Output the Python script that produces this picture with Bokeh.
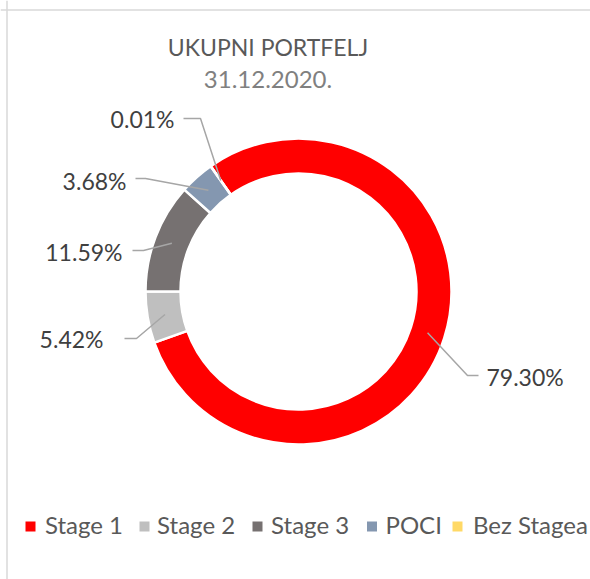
import numpy as np
from bokeh.plotting import figure
from bokeh.models import Range1d, ColumnDataSource, Span
from bokeh.core.properties import value
from bokeh.embed import file_html
from bokeh.resources import INLINE

# ---- data ----
categories = ["Stage 1", "Stage 2", "Stage 3", "POCI", "Bez Stagea"]
shares = [79.30, 5.42, 11.59, 3.68, 0.01]
share_labels = ["79.30%", "5.42%", "11.59%", "3.68%", "0.01%"]
colors = ["#FF0000", "#BFBFBF", "#767171", "#8497B0", "#FFD966"]
title_text = "UKUPNI PORTFELJ"
date_text = "31.12.2020."

# ---- layout ----
W, H = 590, 579
TXT_DY = 9  # compensation for text baseline placement
def Y(py):
    return H - py  # picture pixel y -> data y
def YT(py):
    return H - py + TXT_DY

FONT = value("Lato")
cx, cy = 298, Y(291)
r_out, r_in = 153, 118
first_angle = 325.0  # degrees clockwise from 12 o'clock

# label layout: (text x, text baseline y, align, elbow x, end x, elbow y)
label_layout = [
    (486, 385, "left", 467, 478, 375),
    (103, 347, "right", 136, 124, 338),
    (122, 260, "right", 143, 132, 250),
    (126, 189, "right", 145, 135, 178),
    (174, 127, "right", 200, 183, 118),
]
legend_sq_x = [30, 144, 257, 371.5, 457]
legend_tx_x = [44.5, 156.6, 270.6, 385, 472.5]
legend_base_y = 533
legend_sq_y = 526

p = figure(width=W, height=H, x_range=Range1d(0, W), y_range=Range1d(0, H),
           output_backend="svg", toolbar_location=None, min_border=0,
           x_axis_type=None, y_axis_type=None)
p.grid.visible = False
p.outline_line_color = None
p.background_fill_color = "white"
p.border_fill_color = "white"

# chart-area border (left and top visible)
p.add_layout(Span(location=6.5, dimension="height", line_color="#D9D9D9", line_width=1.5))
p.add_layout(Span(location=Y(9.5), dimension="width", line_color="#D9D9D9", line_width=1.5))

# ---- doughnut ----
cum = np.cumsum([0.0] + shares)
th_s = first_angle + cum[:-1] * 3.6
th_e = first_angle + cum[1:] * 3.6
src = ColumnDataSource(dict(
    start=np.radians(90 - th_s), end=np.radians(90 - th_e), color=colors, cat=categories))
p.annular_wedge(x=cx, y=cy, inner_radius=r_in, outer_radius=r_out,
                start_angle="start", end_angle="end", direction="clock",
                fill_color="color", line_color="white", line_width=2.5, source=src)

# ---- leader lines and labels ----
mid = np.radians(90 - (th_s + th_e) / 2)
r_mid = (r_in + r_out) / 2
xs, ys = [], []
for i, (tx, ty, al, ex, endx, ey) in enumerate(label_layout):
    ax = cx + r_mid * np.cos(mid[i])
    ay = cy + r_mid * np.sin(mid[i])
    xs.append([ax, ex, endx])
    ys.append([ay, Y(ey), Y(ey)])
p.multi_line(xs=xs, ys=ys, line_color="#A6A6A6", line_width=1.5)

for i, (tx, ty, al, ex, endx, ey) in enumerate(label_layout):
    p.text(x=[tx], y=[YT(ty)], text=[share_labels[i]], text_align=al,
           text_baseline="alphabetic", text_font=FONT, text_font_size="23px",
           text_color="#404040")

# ---- title ----
p.text(x=[267.5], y=[YT(55)], text=[title_text], text_align="center",
       text_baseline="alphabetic", text_font=FONT, text_font_size="23px",
       text_color="#595959")
p.text(x=[267.5], y=[YT(88)], text=[date_text], text_align="center",
       text_baseline="alphabetic", text_font=FONT, text_font_size="24px",
       text_color="#808080")

# ---- legend ----
p.scatter(x=legend_sq_x, y=[Y(legend_sq_y)] * len(categories), marker="square",
          size=10, fill_color=colors, line_color=None)
p.text(x=legend_tx_x, y=[YT(legend_base_y)] * len(categories), text=categories,
       text_align="left", text_baseline="alphabetic", text_font=FONT,
       text_font_size="24px", text_color="#595959")

open("out.html", "w").write(file_html(p, INLINE))
